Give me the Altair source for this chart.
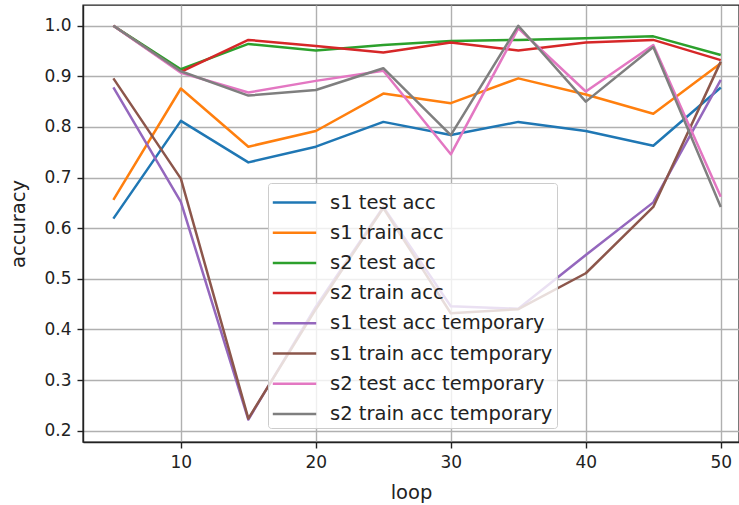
import altair as alt
import pandas as pd

loops = [5, 10, 15, 20, 25, 30, 35, 40, 45, 50]

series_names = [
    "s1 test acc",
    "s1 train acc",
    "s2 test acc",
    "s2 train acc",
    "s1 test acc temporary",
    "s1 train acc temporary",
    "s2 test acc temporary",
    "s2 train acc temporary",
]

s1_test_acc = [0.619, 0.812, 0.730, 0.761, 0.810, 0.784, 0.810, 0.792, 0.763, 0.878]
s1_train_acc = [0.656, 0.876, 0.761, 0.792, 0.866, 0.847, 0.896, 0.864, 0.826, 0.926]
s2_test_acc = [1.000, 0.914, 0.964, 0.951, 0.962, 0.970, 0.972, 0.975, 0.979, 0.942]
s2_train_acc = [1.000, 0.909, 0.972, 0.960, 0.947, 0.967, 0.951, 0.967, 0.972, 0.932]
s1_test_tmp = [0.878, 0.652, 0.222, 0.445, 0.642, 0.446, 0.441, 0.547, 0.651, 0.893]
s1_train_tmp = [0.896, 0.698, 0.224, 0.440, 0.640, 0.432, 0.440, 0.511, 0.642, 0.929]
s2_test_tmp = [1.000, 0.907, 0.868, 0.891, 0.911, 0.746, 0.995, 0.870, 0.962, 0.662]
s2_train_tmp = [1.000, 0.910, 0.862, 0.873, 0.916, 0.784, 1.000, 0.850, 0.958, 0.642]

colors = ["#1f77b4", "#ff7f0e", "#2ca02c", "#d62728",
          "#9467bd", "#8c564b", "#e377c2", "#7f7f7f"]

values = [s1_test_acc, s1_train_acc, s2_test_acc, s2_train_acc,
          s1_test_tmp, s1_train_tmp, s2_test_tmp, s2_train_tmp]

rows = []
for i, (name, vals) in enumerate(zip(series_names, values)):
    for lp, v in zip(loops, vals):
        rows.append({"loop": lp, "accuracy": v, "series": name, "order": i})
df = pd.DataFrame(rows)

FONT = "DejaVu Sans"

chart = alt.Chart(df).mark_line(strokeWidth=2.5, strokeJoin="round", clip=True).encode(
    x=alt.X("loop:Q",
            scale=alt.Scale(domain=[2.75, 51.35], nice=False, zero=False),
            axis=alt.Axis(values=[10, 20, 30, 40, 50], format="d", title="loop")),
    y=alt.Y("accuracy:Q",
            scale=alt.Scale(domain=[0.1777, 1.0409], nice=False, zero=False),
            axis=alt.Axis(values=[0.2, 0.3, 0.4, 0.5, 0.6, 0.7, 0.8, 0.9, 1.0],
                          format=".1f", title="accuracy")),
    color=alt.Color("series:N",
                    scale=alt.Scale(domain=series_names, range=colors),
                    sort=series_names,
                    legend=alt.Legend(
                        title=None,
                        orient="none",
                        legendX=185,
                        legendY=178,
                        symbolType="M-1.05,0H2.05",
                        symbolSize=784,
                        symbolStrokeWidth=2.5,
                        labelFontSize=19.5,
                        labelFont=FONT,
                        labelColor="#222222",
                        labelOffset=27,
                        labelLimit=0,
                        rowPadding=5.2,
                        padding=4,
                        fillColor="rgba(255,255,255,0.8)",
                        strokeColor="#cccccc",
                        cornerRadius=3,
                    )),
    detail="order:O",
    order="order:O",
).properties(
    width=656,
    height=437,
    autosize=alt.AutoSizeParams(type="none"),
    padding={"left": 83, "top": 5, "right": 0, "bottom": 63},
).configure_view(
    stroke="#222222", strokeWidth=1.4
).configure_axis(
    grid=True,
    gridColor="#b0b0b0",
    gridWidth=1.4,
    domainColor="#222222",
    domainWidth=1.4,
    tickColor="#222222",
    tickSize=6,
    tickWidth=1.4,
    labelFont=FONT,
    labelFontSize=17,
    labelColor="#222222",
    labelPadding=6,
    titleFont=FONT,
    titleFontSize=19.5,
    titleFontWeight="normal",
    titleColor="#222222",
).configure_axisY(
    titlePadding=15,
).configure_axisX(
    titlePadding=13,
)

chart.save("out.html", embed_options={"renderer": "svg", "actions": False})
